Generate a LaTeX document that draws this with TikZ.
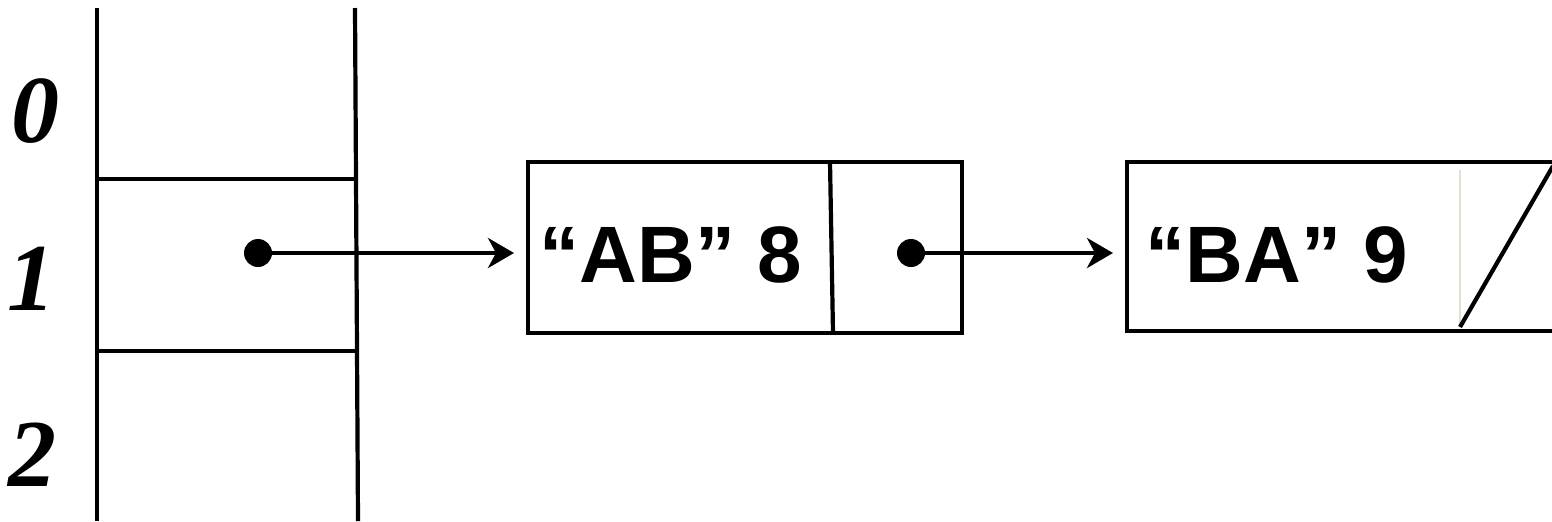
\documentclass[tikz,border=0pt]{standalone}
\usepackage{fontspec}
\setmainfont{Liberation Serif}
\newfontfamily\boxfont{Liberation Sans}
\usetikzlibrary{arrows.meta}
\begin{document}
\begin{tikzpicture}[x=0.5pt,y=-0.5pt,
  ln/.style={line width=2.1pt,black},
  idx/.style={font=\fontsize{48}{48}\selectfont\bfseries\itshape,inner sep=0pt},
  val/.style={font=\boxfont\fontsize{40}{40}\selectfont\bfseries,inner sep=0pt},
  ptr/.style={circle,fill=black,minimum size=14pt,inner sep=0pt},
  arr/.style={ln,-{Stealth[length=13pt,width=15pt,inset=4pt]}}]
\useasboundingbox (0,0) rectangle (1552,521);
% table
\coordinate (tl) at (97,8);
\coordinate (bl) at (97,521);
\coordinate (tr) at (355,8);
\coordinate (br) at (358,521);
\draw[ln] (tl) -- (bl);
\draw[ln] (tr) -- (br);
\coordinate (h1a) at (97,179);
\coordinate (h1b) at (355,179);
\coordinate (h2a) at (97,351);
\coordinate (h2b) at (356,351);
\draw[ln] (h1a) -- (h1b);
\draw[ln] (h2a) -- (h2b);
\node[idx] (i0) at (35,111) {0};
\node[idx] (i1) at (31,279) {1};
\node[idx] (i2) at (33,455) {2};
% pointer in slot 1
\node[ptr] (p1) at (258,253) {};
% box 1
\draw[ln] (528,162) rectangle (962,333);
\coordinate (b1w) at (528,253);
\coordinate (d1t) at (830,162);
\coordinate (d1b) at (833,333);
\draw[ln] (d1t) -- (d1b);
\node[val] (v1) at (671,255) {“AB” 8};
\node[ptr] (p2) at (911,253) {};
% box 2
\draw[ln] (1127,162) rectangle (1560,331);
\coordinate (b2w) at (1127,253);
\coordinate (d2t) at (1460,170);
\coordinate (d2b) at (1460,325);
\draw[line width=1.2pt,color={rgb,255:red,224;green,228;blue,204}] (d2t) -- (d2b);
\coordinate (s1) at (1460,327);
\coordinate (s2) at (1553,166);
\draw[ln] (s1) -- (s2);
\node[val] (v2) at (1277,255) {“BA” 9};
% connectors
\draw[arr,shorten >=7pt] (p1.center) -- (b1w);
\draw[arr,shorten >=7pt] (p2.center) -- (b2w);
\end{tikzpicture}
\end{document}
